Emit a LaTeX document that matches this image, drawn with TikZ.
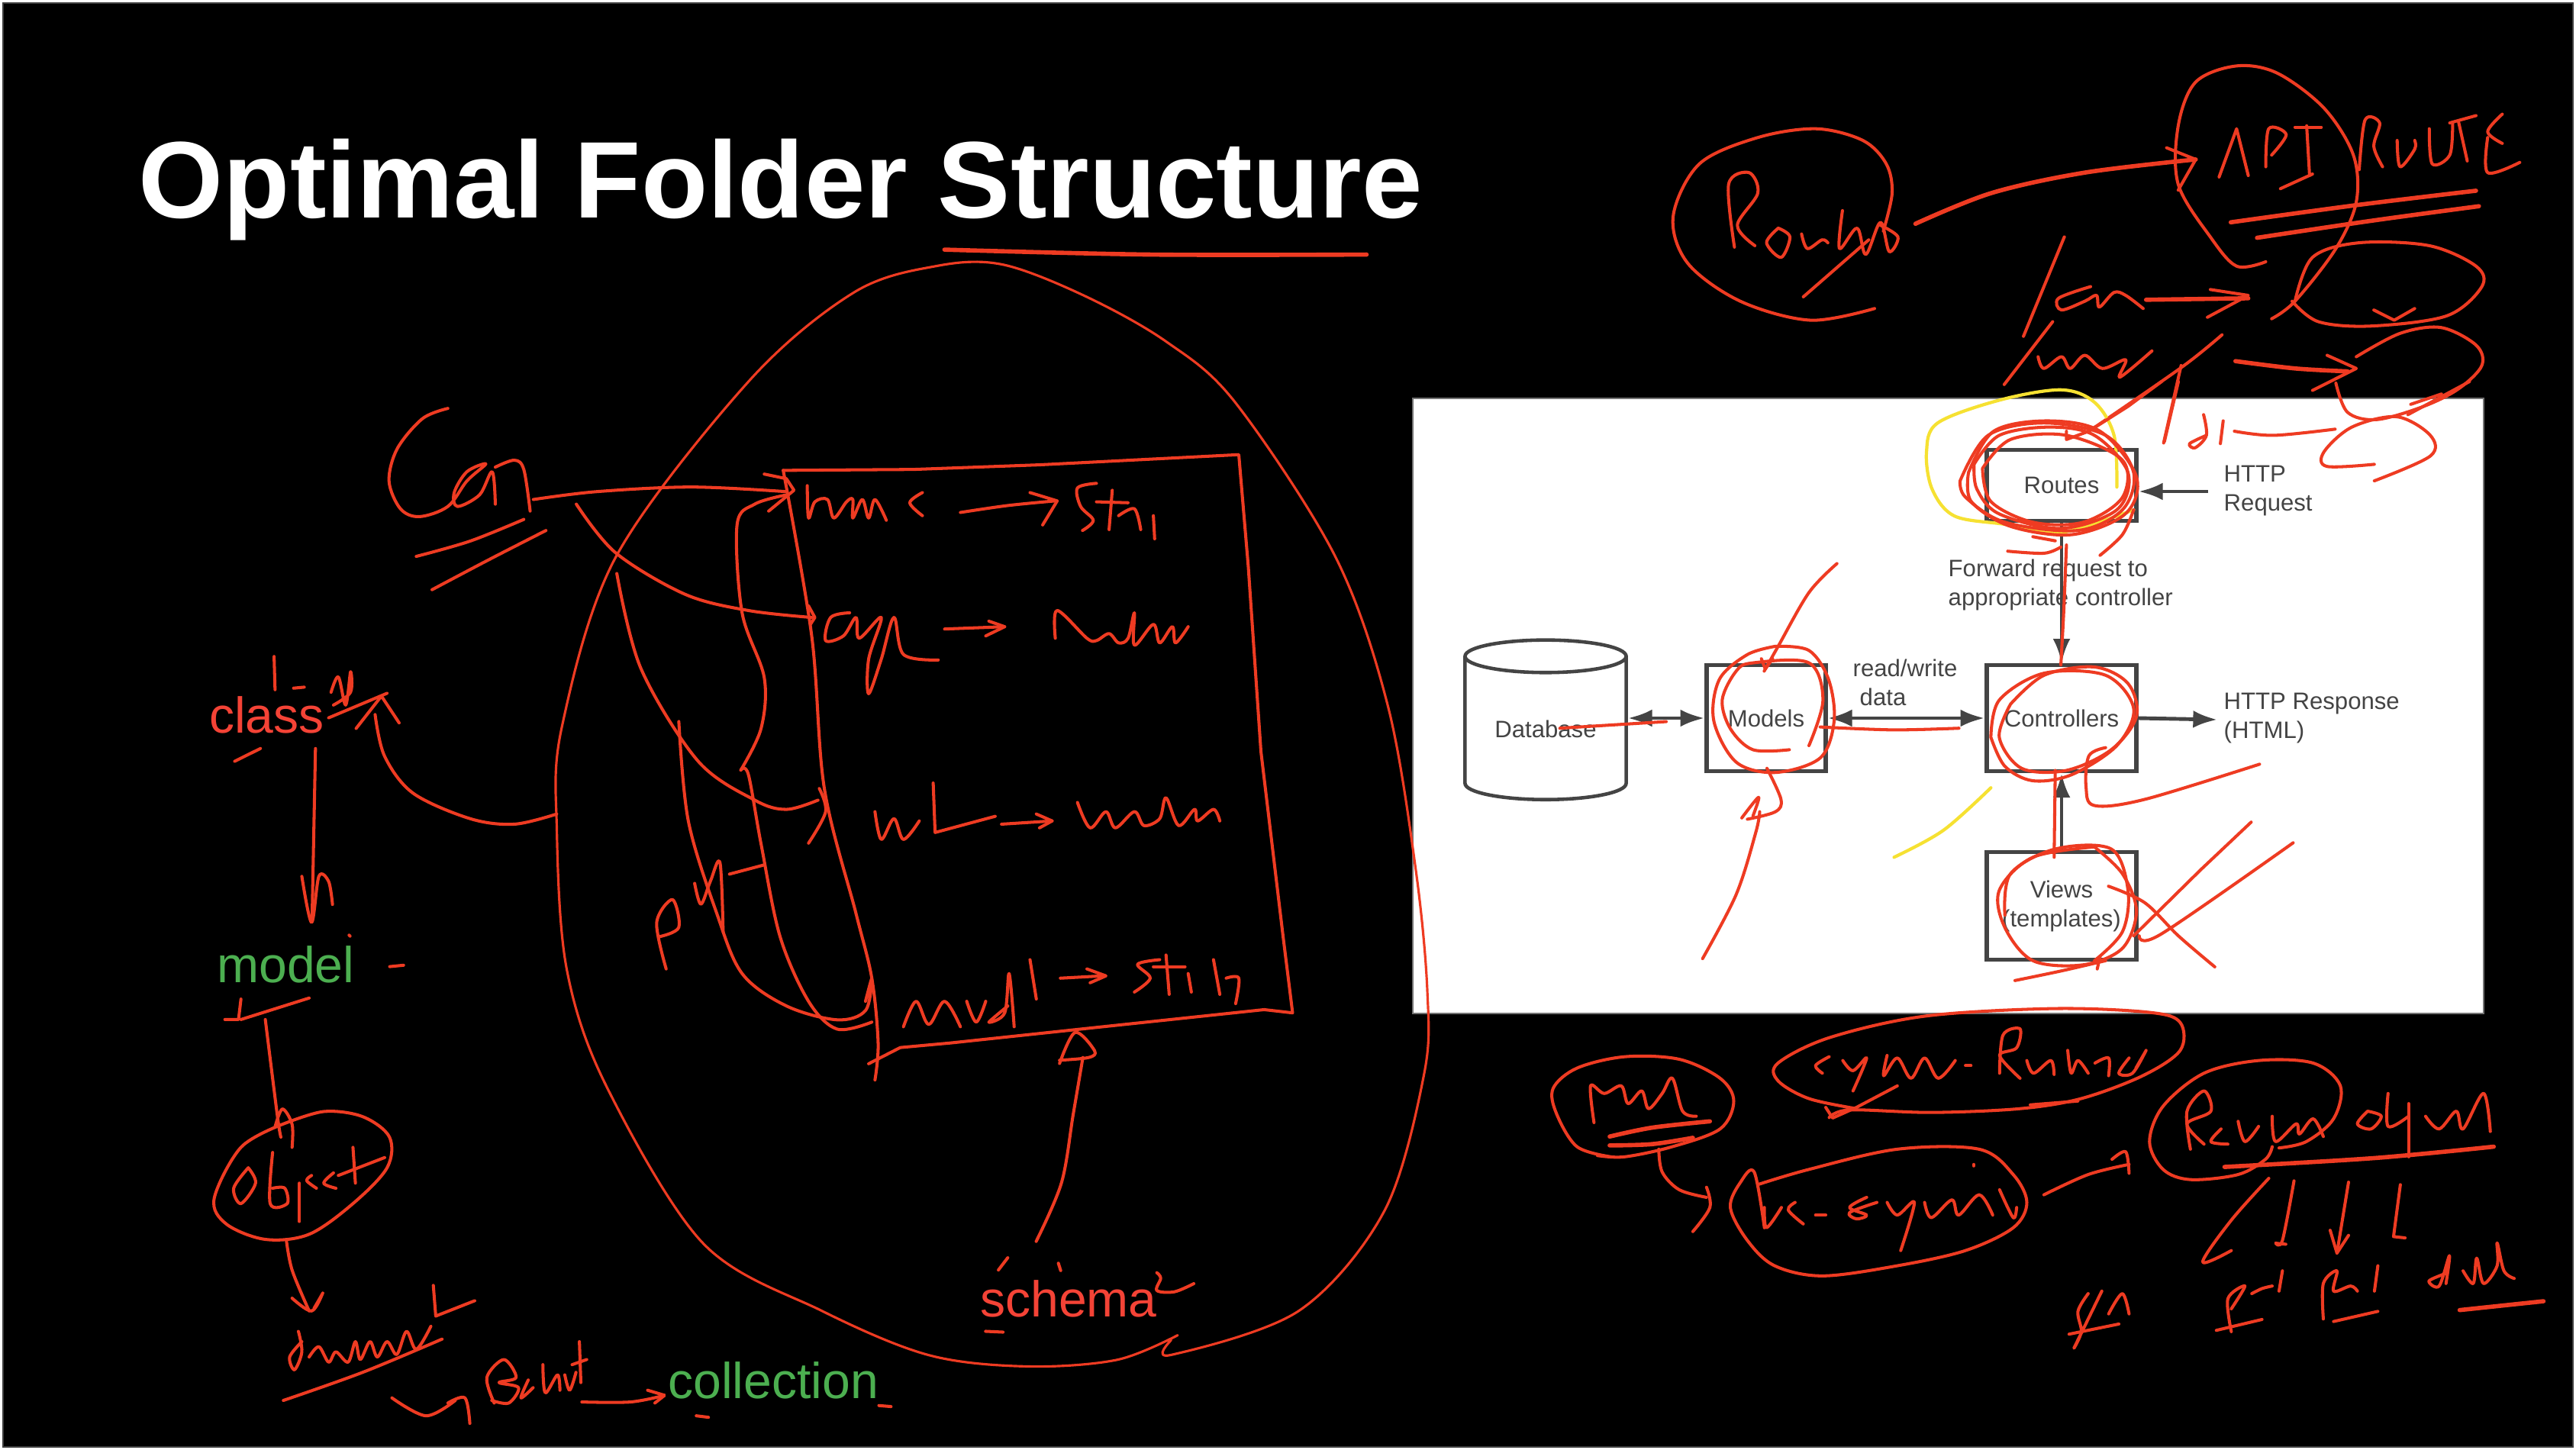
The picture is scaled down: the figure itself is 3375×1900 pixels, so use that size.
\documentclass[tikz,border=0pt]{standalone}
\usepackage{fontspec}
\setmainfont{Liberation Sans}
\usetikzlibrary{arrows.meta,shapes.geometric}
\definecolor{inkred}{HTML}{EE3B22}
\definecolor{lblred}{HTML}{F44336}
\definecolor{lblgreen}{HTML}{4CAF50}
\definecolor{inkyellow}{HTML}{F6E132}
\definecolor{dia}{HTML}{444444}
\tikzset{
  ink/.style={draw=inkred,line width=1.15pt,line cap=round,line join=round},
  thinink/.style={ink,line width=0.9pt},
  thickink/.style={ink,line width=1.6pt},
  yellowink/.style={ink,draw=inkyellow,line width=1.2pt},
  box/.style={draw=dia,line width=1.6pt,fill=white,rectangle,inner sep=0pt,align=center,text=dia,font=\fontsize{8.85}{10.8}\selectfont},
  dialabel/.style={text=dia,inner sep=0pt,font=\fontsize{8.85}{10.8}\selectfont},
  wire/.style={draw=dia,line width=1.4pt,-{Latex[length=9pt,width=6.5pt]}},
  wiretwo/.style={draw=dia,line width=1.4pt,{Latex[length=9pt,width=6.5pt]}-{Latex[length=9pt,width=6.5pt]}},
  handlabel/.style={inner sep=1pt,fill=black,font=\fontsize{18.8}{22}\selectfont,anchor=base west},
  disp/.style={scale=2.152},
  zone/.style={shift={(2150,500)},xscale=.7334,yscale=.542},
  ztwo/.style={shift={(2150,50)},xscale=.765,yscale=.383},
  zthree/.style={shift={(1950,1300)},xscale=.893,yscale=.332},
  zfour/.style={shift={(450,500)},xscale=.829,yscale=.606},
  zfive/.style={shift={(220,820)},xscale=.638,yscale=.67},
  zsix/.style={shift={(1100,1300)},xscale=.51,yscale=.357}
}
\newcommand\ink[1]{\draw[ink] plot[smooth,tension=.55] coordinates {#1};}
\newcommand\thinstroke[1]{\draw[thinink] plot[smooth,tension=.55] coordinates {#1};}
\newcommand\thickstroke[1]{\draw[thickink] plot[smooth,tension=.55] coordinates {#1};}
\newcommand\seg[1]{\draw[ink] plot coordinates {#1};}
\begin{document}
\begin{tikzpicture}[x=0.01cm,y=-0.01cm]
\useasboundingbox (0,0) rectangle (3375,1900);
\fill[white] (0,0) rectangle (3375,1900);
\fill[black!75] (3,3) rectangle (3372,1897);
\fill[black] (5,5) rectangle (3370,1895);
\node[text=white,inner sep=0pt,anchor=base west,font=\fontsize{40.6}{44}\selectfont\bfseries] (title) at (181,286) {Optimal Folder Structure};

% white panel and its flow chart
\fill[white,draw=black!55,line width=.8pt] (1851,522) rectangle (3254,1328);
\node[box,minimum width=1.96cm,minimum height=.93cm] (routes) at (2701,636) {Routes};
\node[box,minimum width=1.96cm,minimum height=1.39cm] (controllers) at (2701,941) {Controllers};
\node[box,minimum width=1.56cm,minimum height=1.39cm] (models) at (2314,941) {Models};
\node[box,minimum width=1.96cm,minimum height=1.41cm] (views) at (2701,1187) {Views\\(templates)};
\node[cylinder,shape border rotate=90,aspect=.32,draw=dia,line width=1.3pt,fill=white,minimum width=2.11cm,minimum height=2.09cm,inner sep=0pt,text=dia,font=\fontsize{8.85}{10.8}\selectfont] (database) at (2025,955) {Database};
\coordinate (reqend) at (2893,644);
\coordinate (respend) at (2905,943);
\draw[wire] (reqend) -- (routes.east|-reqend);
\draw[wire] (routes.south) -- (controllers.north);
\draw[wire] (controllers.east) -- (respend);
\draw[wire] (views.north) -- (controllers.south);
\draw[wiretwo] (models.east) -- (controllers.west);
\draw[wiretwo] (database.east|-models.west) -- (models.west);
\node[dialabel,anchor=west,align=left] (httpreq) at (2913,643) {HTTP\\Request};
\node[dialabel,anchor=west,align=left] (fwd) at (2552,766) {Forward request to\\appropriate controller};
\node[dialabel,align=center] (rw) at (2496,875) {read/write};
\node[dialabel,align=center] (rwdata) at (2467,913) {data};
\node[dialabel,anchor=west,align=left] (httpresp) at (2913,941) {HTTP Response\\(HTML)};

% big loop and title underline
\begin{scope}[disp]
\thickstroke{(575,152) (700,155) (832,155)}
\thinstroke{(717,813) (680,828) (625,832) (565,825) (500,798) (428,757) (369,661) (345,590) (339,505) (342,443) (375,339) (456,232) (520,178) (570,162) (610,161) (660,180) (710,208) (752,245) (813,339) (845,430) (862,530) (869,604) (867,654) (843,737) (791,798) (713,825) (713,816)}
\end{scope}

% schema block, Car, fields
\begin{scope}[zfour]
\ink{(165,58) (125,80) (85,145) (72,215) (90,275) (120,292) (165,270) (195,215) (225,178) (195,195) (175,240) (180,270) (215,245) (235,195) (240,265)}
\ink{(240,185) (270,170) (285,190) (295,280)}
\ink{(115,378) (200,345) (285,298)}
\ink{(140,450) (230,385) (320,322)}
\ink{(300,255) (400,238) (550,228) (700,238)}
\seg{(665,200) (700,210) (712,235) (672,280)}
\ink{(368,265) (430,370) (540,460) (640,495) (740,510)}
\seg{(735,485) (745,510) (738,525)}
\ink{(432,415) (470,620) (560,820) (650,905) (700,925) (750,905)}
\ink{(752,880) (762,930) (735,998)}
\seg{(695,192) (900,190) (1100,180) (1415,158) (1430,400) (1450,800) (1485,1200) (1500,1365) (1455,1358) (1200,1395) (960,1430) (880,1440) (830,1475)}
\ink{(695,192) (740,550) (760,880) (810,1150) (835,1290) (845,1430) (840,1510)}
\ink{(733,225) (735,295) (745,260) (765,255) (775,295) (795,260) (805,255) (805,295) (820,255) (830,295) (840,255) (858,300)}
\ink{(915,240) (895,262) (915,290)}
\ink{(975,283) (1050,268) (1125,258)}
\seg{(1085,240) (1128,258) (1105,310)}
\ink{(1190,220) (1160,230) (1165,270) (1185,300) (1168,322)}
\seg{(1215,235) (1210,320)}
\seg{(1190,260) (1240,262)}
\ink{(1225,290) (1250,275) (1260,320)}
\seg{(1280,290) (1282,340)}
\ink{(800,500) (770,510) (762,560) (790,550) (810,510) (815,555) (850,510) (830,600) (830,675) (850,600) (870,510) (885,590) (940,602)}
\ink{(950,535) (1045,530)}
\seg{(1020,518) (1045,530) (1015,550)}
\ink{(1125,555) (1128,495) (1175,555) (1190,560) (1210,545) (1225,565) (1240,555) (1250,500) (1250,570) (1280,525) (1290,565) (1310,530) (1315,565) (1335,530)}
\ink{(840,930) (850,990) (870,945) (885,990) (910,950)}
\seg{(932,868) (935,975) (1030,940)}
\ink{(1040,957) (1120,950)}
\seg{(1095,935) (1120,950) (1100,965)}
\ink{(1160,910) (1180,965) (1205,930) (1220,965) (1250,930) (1265,960) (1290,945) (1300,900) (1320,960) (1345,925) (1350,950) (1375,925) (1385,950)}
\ink{(885,1395) (905,1340) (925,1390) (950,1340) (975,1395)}
\ink{(985,1340) (1000,1385) (1015,1340)}
\ink{(1050,1350) (1020,1385) (1045,1365) (1052,1280) (1060,1395)}
\seg{(1085,1250) (1095,1335)}
\ink{(1133,1290) (1200,1285)}
\seg{(1175,1270) (1205,1285) (1180,1300)}
\ink{(1290,1250) (1255,1260) (1275,1290) (1250,1320)}
\seg{(1300,1240) (1305,1325)}
\seg{(1280,1265) (1330,1265)}
\ink{(1335,1280) (1340,1320)}
\seg{(1375,1250) (1385,1325)}
\ink{(1395,1290) (1415,1290) (1410,1345)}
\ink{(700,245) (650,265) (622,310) (630,500) (665,640) (660,750) (628,840)}
\ink{(628,840) (640,850) (660,1000) (690,1200) (735,1340) (780,1400) (835,1385)}
\ink{(530,735) (545,950) (590,1150) (630,1280) (700,1350) (780,1380) (825,1360) (835,1290) (825,1340)}
\ink{(510,1270) (495,1170) (520,1120) (530,1180) (500,1200)}
\ink{(555,1085) (565,1130) (580,1080) (595,1040) (600,1190)}
\ink{(610,1065) (665,1045)}
\ink{(337,935) (270,957) (200,945) (110,890) (65,810) (50,720)}
\seg{(20,750) (60,680) (88,738)}
\seg{(73,1265) (95,1262)}
\end{scope}

% schema label strokes
\begin{scope}[zsix]
\ink{(505,915) (570,700) (600,450) (625,240)}
\ink{(565,262) (605,148) (655,215) (640,240) (565,250)}
\seg{(408,1020) (432,975)}
\seg{(562,995) (568,1022)}
\ink{(815,1030) (825,1050) (815,1095) (860,1100) (910,1070)}
\seg{(375,1245) (420,1248)}
\end{scope}

% left column strokes
\begin{scope}[zfive]
\seg{(218,60) (220,125)}
\seg{(258,122) (280,120)}
\ink{(335,130) (350,100) (365,155) (375,90) (375,130) (340,155)}
\seg{(330,180) (450,132)}
\seg{(137,265) (190,240)}
\seg{(303,240) (296,575)}
\ink{(275,490) (295,580) (310,490) (330,500) (338,545)}
\seg{(117,770) (145,770) (150,730)}
\seg{(150,770) (290,728)}
\ink{(200,770) (225,960) (232,1000)}
\ink{(220,980) (235,945) (255,975) (255,1020)}
\ink{(235,975) (150,1020) (95,1120) (120,1170) (200,1200) (290,1190) (380,1130) (450,1060) (455,1000) (400,960) (320,950) (235,975)}
\ink{(165,1060) (135,1100) (150,1130) (180,1090) (165,1060)}
\ink{(215,1030) (210,1130) (245,1130) (240,1100) (215,1100)}
\seg{(270,1090) (270,1165)}
\ink{(295,1075) (285,1085) (305,1100)}
\ink{(340,1070) (320,1090) (345,1100)}
\seg{(380,1020) (385,1090)}
\seg{(350,1075) (445,1040)}
\ink{(243,1200) (255,1260) (290,1340)}
\ink{(255,1315) (295,1340) (318,1305) (300,1335)}
\ink{(275,1400) (250,1430) (260,1455) (275,1420) (268,1380)}
\ink{(290,1430) (310,1410) (330,1440) (345,1420) (370,1440) (385,1400) (395,1435) (415,1400) (430,1430) (450,1400) (470,1425) (490,1380) (510,1415) (540,1370)}
\seg{(545,1290) (550,1350) (630,1320)}
\ink{(237,1515) (400,1460) (563,1395)}
\ink{(460,1510) (530,1545) (590,1515)}
\ink{(575,1520) (610,1510) (620,1560)}
\ink{(670,1520) (655,1470) (690,1435) (715,1470) (680,1480) (720,1490) (700,1520) (665,1515)}
\ink{(740,1475) (725,1510) (750,1490)}
\ink{(770,1445) (775,1500) (800,1465) (805,1495)}
\ink{(815,1465) (825,1495) (838,1460)}
\seg{(845,1400) (848,1480)}
\seg{(830,1445) (860,1435)}
\ink{(850,1518) (950,1518) (1020,1505)}
\seg{(985,1495) (1020,1505) (1000,1520)}
\seg{(1460,1525) (1485,1527)}
\seg{(1085,1545) (1110,1548)}
\seg{(372,605) (374,607)}
\end{scope}

% top right strokes
\begin{scope}[ztwo]
\ink{(400,925) (290,965) (170,900) (80,770) (55,610) (100,430) (200,340) (300,310) (380,350) (420,430) (430,530) (415,660)}
\ink{(160,715) (150,500) (185,460) (200,530) (165,640) (195,710)}
\ink{(235,650) (215,700) (240,750) (255,680) (235,650)}
\ink{(275,670) (285,720) (310,690) (320,700)}
\ink{(345,590) (340,720) (370,650) (385,740) (410,630) (425,730) (440,680) (410,640)}
\seg{(278,885) (390,690)}
\thickstroke{(470,635) (600,530) (760,460) (950,415)}
\seg{(900,375) (950,415) (920,520)}
\ink{(1070,765) (1020,780) (975,680) (920,500) (920,300) (950,150) (1020,95) (1090,120) (1170,240) (1220,400) (1225,560) (1190,720) (1120,900) (1080,960)}
\seg{(990,475) (1020,310) (1040,470)}
\ink{(1070,440) (1075,310) (1105,330) (1080,400)}
\seg{(1140,300) (1145,470)}
\seg{(1120,305) (1165,305)}
\seg{(1095,515) (1150,465)}
\ink{(1230,450) (1240,280) (1265,290) (1255,370) (1270,440)}
\ink{(1295,350) (1300,440) (1325,380) (1325,350)}
\ink{(1350,310) (1355,430) (1385,400) (1390,290)}
\seg{(1400,285) (1415,420)}
\seg{(1385,290) (1430,265)}
\ink{(1475,260) (1450,320) (1475,360)}
\ink{(1450,340) (1450,460) (1505,425)}
\thickstroke{(1010,630) (1230,570) (1430,522)}
\thickstroke{(1055,683) (1250,625) (1435,575)}
\ink{(1120,900) (1150,750) (1230,700) (1350,710) (1430,780) (1440,850) (1380,950) (1250,985) (1160,970) (1115,900)}
\seg{(1255,930) (1290,965) (1325,925)}
\seg{(725,680) (655,1020)}
\ink{(770,850) (715,890) (720,930) (760,900) (780,880) (785,920) (810,870) (830,880) (860,925)}
\thickstroke{(865,895) (1040,890)}
\seg{(975,860) (1040,880) (970,955)}
\seg{(705,970) (622,1185)}
\ink{(680,1090) (690,1130) (720,1090) (735,1130) (760,1085) (790,1130) (830,1100) (820,1160) (875,1070)}
\ink{(995,1015) (930,1120) (800,1300) (770,1340)}
\seg{(925,1120) (895,1385)}
\thickstroke{(1018,1105) (1120,1130) (1210,1140)}
\seg{(1175,1085) (1225,1130) (1150,1205)}
\ink{(1225,1090) (1300,1010) (1370,990) (1430,1050) (1440,1120) (1400,1200) (1340,1260) (1260,1305) (1210,1280) (1190,1180)}
\end{scope}

% ink over the flow chart
\begin{scope}[zone]
\draw[yellowink] plot[smooth,tension=.55] coordinates {(850,255) (845,130) (810,50) (750,20) (640,45) (530,100) (510,170) (520,260) (560,325) (650,345) (750,365) (880,310)};
\draw[yellowink] plot[smooth,tension=.55] coordinates {(452,1150) (540,1085) (625,982)};
\ink{(570,240) (620,130) (720,100) (830,130) (880,220) (860,310) (780,360) (650,340) (580,280) (570,240)}
\ink{(595,200) (640,130) (730,110) (810,130) (870,220) (850,310) (750,355) (640,320) (600,260) (595,200)}
\ink{(610,210) (660,140) (760,130) (860,190) (860,280) (790,340) (700,340) (625,290) (610,210)}
\ink{(585,220) (630,120) (725,95) (820,120) (885,230) (865,320) (770,370) (660,350) (590,290) (585,220)}
\ink{(655,410) (720,415) (750,400)}
\ink{(820,420) (860,370) (880,310)}
\seg{(700,375) (740,385)}
\seg{(760,120) (760,140) (800,120) (870,60) (930,0)}
\ink{(760,395) (755,560) (750,685)}
\ink{(350,440) (300,510) (245,640) (220,700)}
\seg{(215,670) (222,695) (235,670)}
\ink{(240,640) (300,650) (335,720) (345,820) (320,910) (240,945) (170,920) (130,820) (140,720) (190,660) (240,640)}
\ink{(265,890) (200,890) (160,840) (145,770) (170,700) (200,680) (300,680) (325,770) (300,880)}
\ink{(110,1395) (170,1240) (205,1090) (212,1040)}
\ink{(180,1055) (210,1005) (200,1050)}
\ink{(190,1058) (240,1040) (250,1010) (225,935)}
\ink{(320,835) (450,842) (568,838)}
\ink{(-145,838) (45,822)}
\ink{(660,780) (720,710) (810,690) (870,730) (885,810) (840,890) (760,940) (680,935) (640,860) (660,780)}
\ink{(625,860) (640,770) (720,705) (830,710) (880,790) (850,880) (770,950) (700,965) (650,930) (625,860)}
\ink{(830,885) (800,905) (795,980) (810,1025) (900,1010) (1105,925)}
\seg{(738,1150) (740,940)}
\ink{(810,1125) (860,1190) (885,1280) (860,1370) (790,1410) (700,1400) (650,1320) (640,1230) (700,1150) (810,1125)}
\ink{(650,1290) (660,1190) (740,1130) (840,1130) (870,1230) (860,1330) (810,1400)}
\ink{(668,1448) (750,1425) (830,1400)}
\seg{(815,1420) (820,1390)}
\ink{(835,1220) (900,1260) (960,1340) (1025,1415)}
\seg{(1090,1065) (1000,1180) (880,1340)}
\ink{(890,1340) (930,1335) (1165,1115)}
\ink{(1010,130) (980,150) (990,160) (1010,130) (1005,80)}
\seg{(1040,95) (1035,150)}
\ink{(1060,120) (1130,130) (1240,115)}
\seg{(960,0) (935,145)}
\ink{(1310,200) (1225,205) (1220,170) (1270,110) (1350,85) (1410,130) (1410,180) (1310,240)}
\seg{(1375,55) (1430,30)}
\seg{(1370,80) (1480,0)}
\end{scope}

% lower right strokes
\begin{scope}[zthree]
\ink{(180,650) (130,610) (100,480) (95,380) (130,300) (200,255) (280,265) (340,340) (360,430) (340,540) (270,610) (200,650) (160,645)}
\ink{(155,515) (150,370) (170,400) (195,370) (205,440) (225,390) (235,460) (255,400) (270,340) (285,470) (305,490)}
\thickstroke{(178,570) (240,535) (325,510)}
\thickstroke{(178,605) (240,600) (300,575)}
\ink{(250,620) (255,710) (280,780) (320,810)}
\ink{(320,770) (325,850) (300,945)}
\ink{(500,495) (530,465) (650,475) (780,460) (870,420) (960,330) (1015,230) (1015,120) (970,80) (830,65) (640,95) (500,180) (425,280) (425,350) (470,420) (540,460)}
\ink{(490,320) (480,290) (500,255)}
\ink{(520,270) (535,310) (555,260) (535,390)}
\ink{(585,250) (580,330) (600,260) (620,340) (640,260) (660,340) (685,270)}
\seg{(700,290) (708,290)}
\ink{(750,320) (755,170) (780,145) (775,220) (750,250) (780,340)}
\ink{(790,270) (800,320) (825,270) (830,325)}
\ink{(850,230) (855,320) (865,270) (880,320)}
\ink{(890,280) (910,260) (910,330)}
\ink{(940,260) (925,320) (945,320) (965,230) (950,300)}
\seg{(600,370) (540,455) (505,497) (495,455)}
\seg{(795,445) (865,430)}
\ink{(395,760) (470,700) (600,620) (720,620) (770,720) (790,830) (770,930) (700,1020) (600,1080) (490,1120) (420,1080) (380,980) (355,850) (370,750) (390,710) (405,930)}
\ink{(405,850) (408,930) (430,850)}
\ink{(450,830) (440,860) (462,915)}
\seg{(480,880) (495,880)}
\ink{(555,810) (530,850) (555,880) (540,895) (530,870) (570,830)}
\ink{(585,830) (600,880) (625,830) (605,1020)}
\ink{(640,830) (650,890) (680,820) (690,880) (720,800) (740,880)}
\seg{(712,680) (712,686)}
\ink{(750,780) (770,890) (775,850)}
\ink{(815,800) (880,720) (940,680)}
\ink{(915,660) (935,630) (940,715)}
\ink{(1150,610) (1140,660) (1100,720) (1030,740) (990,700) (970,590) (990,450) (1050,320) (1130,270) (1210,280) (1250,370) (1240,500) (1200,590) (1160,615)}
\ink{(1030,620) (1025,470) (1050,390) (1060,470) (1025,520) (1050,600)}
\ink{(1075,540) (1060,590) (1085,600)}
\ink{(1100,510) (1110,590) (1130,530)}
\ink{(1150,490) (1155,590) (1185,520) (1190,560) (1210,500) (1225,570)}
\ink{(1290,470) (1275,520) (1295,540) (1310,490) (1290,470)}
\ink{(1320,400) (1320,530) (1350,490)}
\seg{(1350,440) (1350,650)}
\ink{(1375,490) (1395,540) (1420,470) (1430,540) (1460,400) (1470,550)}
\thickstroke{(1080,690) (1300,655) (1475,610)}
\ink{(1145,735) (1090,900) (1048,1065) (1090,1020)}
\ink{(1182,745) (1165,980) (1155,990) (1170,995)}
\seg{(1235,940) (1245,1030) (1262,960)}
\seg{(1262,750) (1245,1030)}
\seg{(1338,760) (1328,965) (1345,970)}
\ink{(880,1190) (865,1260) (870,1340) (860,1400) (900,1180)}
\ink{(910,1270) (930,1190) (940,1270)}
\seg{(852,1350) (925,1310)}
\ink{(1090,1340) (1085,1210) (1110,1160) (1090,1250)}
\ink{(1120,1190) (1135,1170) (1150,1160)}
\seg{(1165,1100) (1160,1180)}
\seg{(1068,1335) (1135,1292)}
\ink{(1225,1290) (1225,1150) (1245,1100) (1240,1180) (1265,1160) (1275,1180)}
\seg{(1305,1080) (1300,1180)}
\seg{(1240,1300) (1305,1260)}
\ink{(1405,1110) (1380,1140) (1395,1160) (1410,1040) (1405,1150)}
\ink{(1430,1100) (1445,1150) (1450,1050) (1460,1150) (1480,1080) (1480,990) (1490,1100) (1505,1130)}
\thickstroke{(1425,1255) (1548,1220)}
\end{scope}

% printed labels
\node[handlabel,text=lblred] (classlabel) at (270,960) {class};
\node[handlabel,text=lblgreen] (modellabel) at (280,1287) {model};
\node[handlabel,text=lblgreen] (collectionlabel) at (871,1832) {collection};
\node[handlabel,text=lblred,fill=none] (schemalabel) at (1280,1725) {schema};
\end{tikzpicture}
\end{document}
